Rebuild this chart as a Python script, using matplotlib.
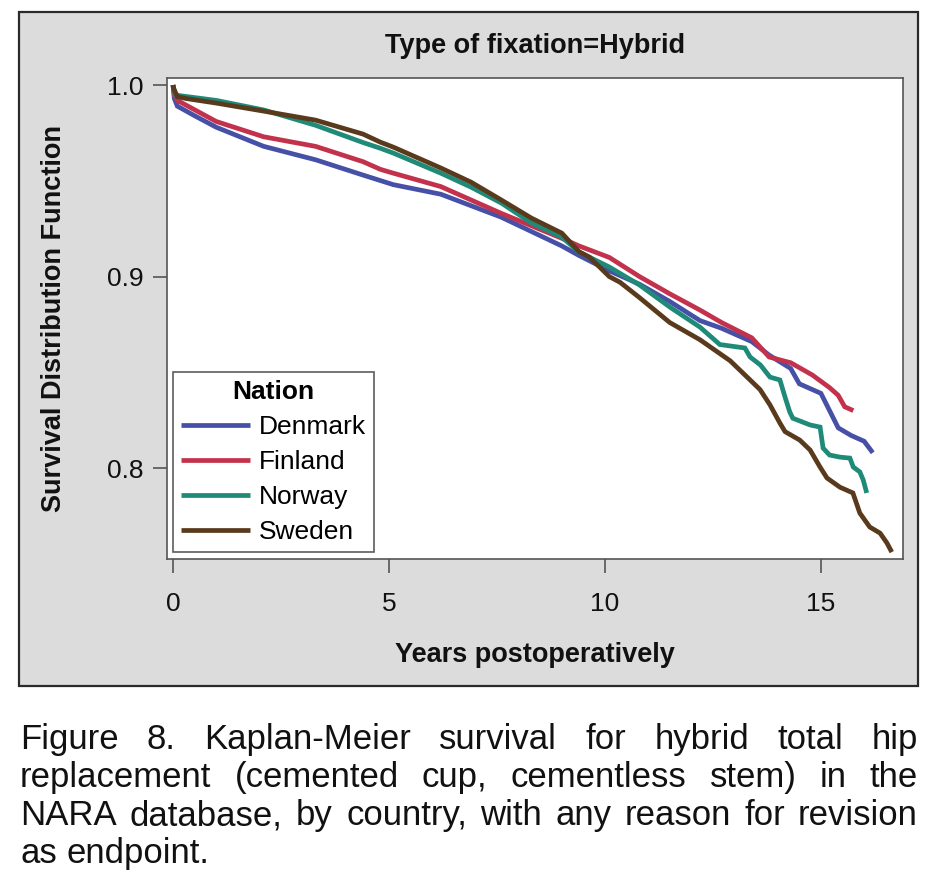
import matplotlib
matplotlib.use('Agg')
import matplotlib.pyplot as plt
from matplotlib.patches import Rectangle

W, H = 934, 893
DPI = 100

# ---------------- data ----------------
nations = ['Denmark', 'Finland', 'Norway', 'Sweden']
colors = ['#4650a6', '#c3324c', '#1f8a78', '#5a3a1c']

denmark_t = [0, 0.03, 0.1, 0.5, 1.0, 2.1, 3.3, 4.4, 5.1, 6.2, 7.6, 9.0, 9.4,
             10.1, 10.8, 11.5, 12.2, 12.7, 13.4, 13.8, 14.3, 14.5, 15.0, 15.2,
             15.4, 15.7, 16.0, 16.2]
denmark_s = [1.0, 0.993, 0.989, 0.984, 0.978, 0.968, 0.961, 0.953, 0.948, 0.943,
             0.931, 0.916, 0.911, 0.903, 0.896, 0.887, 0.877, 0.873, 0.866, 0.859,
             0.852, 0.844, 0.839, 0.830, 0.821, 0.817, 0.814, 0.808]

finland_t = [0, 0.03, 0.1, 1.0, 2.1, 3.3, 4.4, 4.8, 5.1, 6.2, 7.6, 9.0, 9.4,
             10.1, 10.8, 11.5, 12.2, 12.7, 13.4, 13.8, 14.3, 14.8, 15.2, 15.4,
             15.55, 15.75]
finland_s = [1.0, 0.995, 0.992, 0.981, 0.973, 0.968, 0.960, 0.956, 0.954, 0.947,
             0.933, 0.920, 0.916, 0.910, 0.900, 0.891, 0.8825, 0.876, 0.868, 0.858,
             0.855, 0.8486, 0.842, 0.838, 0.832, 0.830]

norway_t = [0, 0.05, 1.0, 2.1, 3.3, 4.4, 4.8, 5.1, 6.2, 6.9, 7.6, 8.3, 9.0, 9.4,
            10.1, 10.8, 11.5, 12.2, 12.66, 13.24, 13.36, 13.6, 13.82, 14.05, 14.17,
            14.28, 14.35, 14.75, 14.98, 15.05, 15.2, 15.44, 15.67, 15.75, 15.9,
            15.98, 16.06]
norway_s = [1.0, 0.9948, 0.992, 0.987, 0.979, 0.970, 0.967, 0.9645, 0.954, 0.9467,
            0.9384, 0.928, 0.9206, 0.9128, 0.905, 0.8956, 0.8841, 0.8736, 0.8645,
            0.8627, 0.858, 0.8538, 0.8475, 0.846, 0.837, 0.8292, 0.826, 0.8225,
            0.8214, 0.8104, 0.8068, 0.8057, 0.8052, 0.8005, 0.798, 0.7937, 0.787]

sweden_t = [0, 0.02, 0.1, 0.3, 1.0, 2.1, 3.3, 4.4, 4.8, 5.1, 6.2, 6.9, 7.6, 8.3,
            9.0, 9.4, 9.65, 10.1, 10.35, 10.8, 11.5, 12.2, 12.9, 13.13, 13.59,
            13.82, 14.05, 14.17, 14.51, 14.75, 14.98, 15.14, 15.44, 15.74, 15.9,
            16.13, 16.37, 16.53, 16.64]
sweden_s = [1.0, 0.998, 0.994, 0.993, 0.9906, 0.9864, 0.9817, 0.9744, 0.9702,
            0.9676, 0.9567, 0.9493, 0.940, 0.9305, 0.9227, 0.913, 0.910, 0.900,
            0.897, 0.889, 0.876, 0.867, 0.856, 0.851, 0.841, 0.833, 0.8235, 0.819,
            0.8146, 0.8094, 0.8005, 0.7948, 0.790, 0.787, 0.7765, 0.7692, 0.766,
            0.7608, 0.7561]

x_ticks = [0, 5, 10, 15]
y_ticks = [0.8, 0.9, 1.0]
y_tick_labels = ['0.8', '0.9', '1.0']

title_text = 'Type of fixation=Hybrid'
xlabel_text = 'Years postoperatively'
ylabel_text = 'Survival Distribution Function'
legend_title = 'Nation'
caption_lines = [
    'Figure 8. Kaplan-Meier survival for hybrid total hip',
    'replacement (cemented cup, cementless stem) in the',
    'NARA database, by country, with any reason for revision',
    'as endpoint.',
]

# ---------------- figure ----------------
FONT = ['Liberation Sans', 'DejaVu Sans']
plt.rcParams['font.family'] = FONT

fig = plt.figure(figsize=(W / DPI, H / DPI), dpi=DPI)
fig.patch.set_facecolor('white')


def fx(px):
    return px / W


def fy(py):
    return 1 - py / H


panel = Rectangle((fx(19), fy(686)), 899 / W, 674 / H, transform=fig.transFigure,
                  facecolor='#dcdcdc', edgecolor='#2a2a2a', lw=1.6, zorder=-5)
fig.patches.append(panel)

ax = fig.add_axes([fx(167), fy(559), 736 / W, 481 / H])
ax.set_zorder(2)
ax.set_facecolor('white')

series = [(denmark_t, denmark_s), (finland_t, finland_s),
          (norway_t, norway_s), (sweden_t, sweden_s)]
for name, col, (t, s) in zip(nations, colors, series):
    ax.plot(t, s, color=col, lw=3.4, label=name, solid_joinstyle='miter',
            solid_capstyle='butt')

ax.set_xlim(-0.139, 16.9)
ax.set_ylim(0.7525, 1.0037)
ax.set_xticks(x_ticks)
ax.set_xticklabels([str(v) for v in x_ticks])
ax.set_yticks(y_ticks)
ax.set_yticklabels(y_tick_labels)
for sp in ax.spines.values():
    sp.set_color('#555555')
    sp.set_linewidth(1.2)
ax.tick_params(axis='both', direction='out', length=10, width=1.2,
               color='#555555', labelsize=19, labelcolor='#111111')
ax.tick_params(axis='x', pad=14)
ax.tick_params(axis='y', pad=7)

fig.text(fx(535), fy(53), title_text, ha='center', va='baseline',
         fontsize=19.5, fontweight='bold', color='#111111')
fig.text(fx(535), fy(662), xlabel_text, ha='center', va='baseline',
         fontsize=19.5, fontweight='bold', color='#111111')
fig.text(fx(54), fy(318), ylabel_text, ha='center', va='center', rotation=90,
         fontsize=19.5, fontweight='bold', color='#111111')

leg = ax.legend(title=legend_title, loc='lower left',
                bbox_to_anchor=(fx(173), fy(552)), bbox_transform=fig.transFigure,
                borderaxespad=0, fontsize=19, title_fontproperties={'weight': 'bold', 'size': 19},
                frameon=True, fancybox=False, edgecolor='#333333',
                handlelength=2.6, handletextpad=0.35, labelspacing=0.42,
                borderpad=0.3)
leg.get_frame().set_linewidth(1.2)
for line in leg.get_lines():
    line.set_linewidth(3.4)

# caption, justified
fig.canvas.draw()
renderer = fig.canvas.get_renderer()
baselines = [749, 787, 825, 863]
left, right = 20, 918
for i, line in enumerate(caption_lines):
    words = line.split()
    texts = [fig.text(0, fy(baselines[i]), w, fontsize=25, va='baseline',
                      ha='left', color='#111111') for w in words]
    widths = [t.get_window_extent(renderer).width for t in texts]
    if i < len(caption_lines) - 1 and len(words) > 1:
        gap = (right - left - sum(widths)) / (len(words) - 1)
    else:
        gap = 0.278 * 25 * DPI / 72
    x = left
    for t, w in zip(texts, widths):
        t.set_x(fx(x))
        x += w + gap

fig.savefig('out.png', dpi=DPI)
